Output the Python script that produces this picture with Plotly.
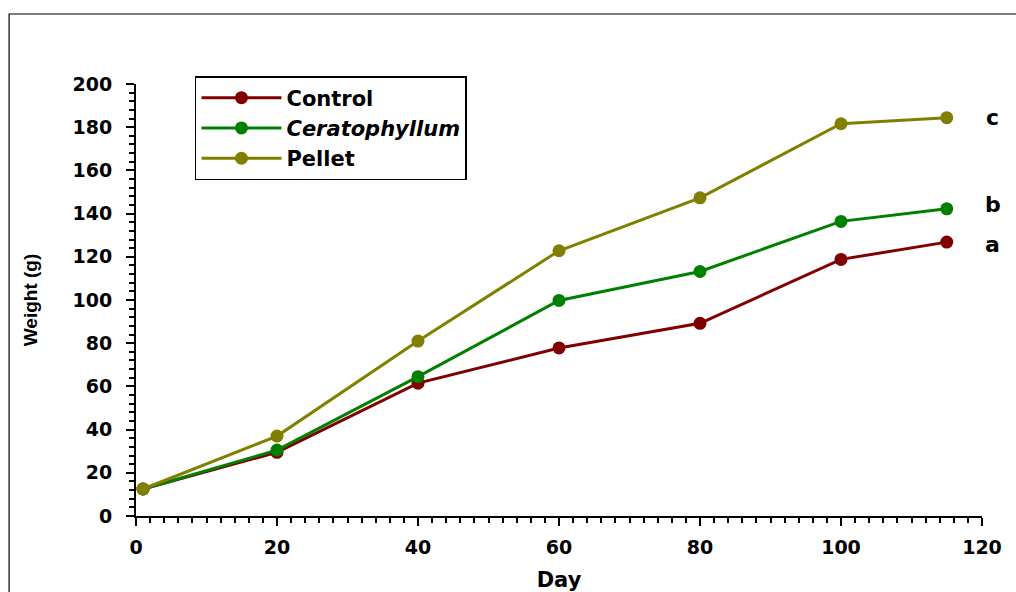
import plotly.graph_objects as go

days = [1, 20, 40, 60, 80, 100, 115]
control = [12.5, 29.5, 61.5, 77.8, 89.2, 118.8, 126.8]
ceratophyllum = [12.5, 30.5, 64.5, 99.8, 113.2, 136.4, 142.2]
pellet = [12.5, 37.0, 81.0, 122.8, 147.3, 181.6, 184.4]

series_names = ["Control", "<i>Ceratophyllum</i>", "Pellet"]
series_colors = ["#800000", "#008000", "#808000"]
sig_letters = ["a", "b", "c"]
letter_shift = [-2, 4, 0]

FONT = "'DejaVu Sans', Arial, sans-serif"
FONT2 = "Arial, 'Liberation Sans', sans-serif"

fig = go.Figure()
for name, vals, col in zip(series_names, [control, ceratophyllum, pellet], series_colors):
    fig.add_trace(go.Scatter(
        x=days, y=vals, name="<b>%s</b>" % name, mode="lines+markers",
        line=dict(color=col, width=3),
        marker=dict(color=col, size=13),
        cliponaxis=False,
    ))

# significance letters to the right of the last points
for letter, vals, sh in zip(sig_letters, [control, ceratophyllum, pellet], letter_shift):
    fig.add_annotation(x=1.013, y=vals[-1], text="<b>%s</b>" % letter, showarrow=False,
                       xref="paper", yref="y", font=dict(size=22, color="black", family=FONT),
                       xanchor="center", yanchor="middle", yshift=sh)

axis_common = dict(
    showgrid=False, zeroline=False, showline=True, linecolor="black", linewidth=2,
    ticks="outside", ticklen=8, tickwidth=2, tickcolor="black",
    tickfont=dict(size=19, color="black", family=FONT),
    tickprefix="<b>", ticksuffix="</b>",
)

fig.update_xaxes(
    range=[0, 120], dtick=20, tick0=0,
    minor=dict(ticks="outside", ticklen=5, tickwidth=2, tickcolor="black", dtick=2),
    title=dict(text="<b>Day</b>", font=dict(size=21, color="black", family=FONT), standoff=24),
    ticklabelstandoff=5,
    **axis_common,
)
fig.update_yaxes(
    range=[0, 200], dtick=20, tick0=0,
    minor=dict(ticks="outside", ticklen=5, tickwidth=2, tickcolor="black", dtick=4),
    title=dict(text="<b>Weight (g)</b>", font=dict(size=19, color="black", family=FONT2), standoff=30),
    ticklabelstandoff=10,
    **axis_common,
)

# outer frame
fig.add_shape(type="rect", xref="paper", yref="paper",
              x0=-0.150, x1=1.6, y0=-0.6, y1=1.162,
              line=dict(color="black", width=1.2), fillcolor="rgba(0,0,0,0)", layer="below")

fig.update_layout(
    width=1016, height=592,
    margin=dict(l=136, r=34, t=84, b=76, autoexpand=False),
    plot_bgcolor="white", paper_bgcolor="white",
    font=dict(family=FONT, color="black"),
    showlegend=True,
    legend=dict(
        x=0.0697, y=1.0185, xanchor="left", yanchor="top",
        bordercolor="black", borderwidth=1.5, bgcolor="white",
        font=dict(size=21, color="black", family=FONT),
        tracegroupgap=0, itemwidth=80,
    ),
)

fig.write_html("out.html", config={"displayModeBar": False},
               post_script="document.body.style.margin='0';document.body.style.overflow='hidden';")
